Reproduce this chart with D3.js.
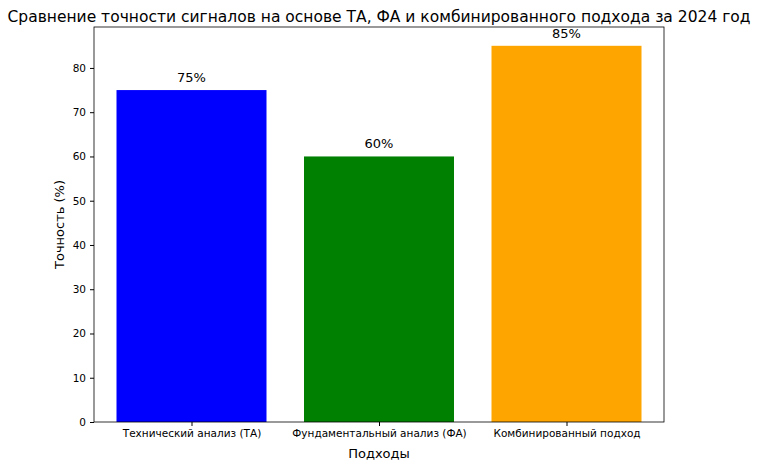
<!DOCTYPE html>
<html><head><meta charset="utf-8">
<script src="https://cdn.jsdelivr.net/npm/d3@7"></script>
<style>body{margin:0;background:#fff;font-family:"DejaVu Sans",sans-serif}</style>
</head><body>
<svg id="chart" width="758" height="468"></svg>
<script>
var categories = ["Технический анализ (ТА)", "Фундаментальный анализ (ФА)", "Комбинированный подход"];
var accuracy = [75, 60, 85];
var colors = ["blue", "green", "orange"];
var yTicks = [0, 10, 20, 30, 40, 50, 60, 70, 80];

var svg = d3.select("#chart");
var plotL = 94, plotR = 664, plotT = 27, plotB = 422;

var x = d3.scaleLinear().domain([-0.52, 2.52]).range([plotL, plotR]);
var y = d3.scaleLinear().domain([0, 89.25]).range([plotB, plotT]);
var bw = x(0.4) - x(0);

svg.selectAll(".bar").data(accuracy).enter().append("rect")
    .attr("x", function(d, i){ return x(i) - bw; })
    .attr("y", function(d){ return y(d); })
    .attr("width", bw * 2)
    .attr("height", function(d){ return y(0) - y(d); })
    .attr("fill", function(d, i){ return colors[i]; });

svg.selectAll(".lbl").data(accuracy).enter().append("text")
    .attr("x", function(d, i){ return x(i); })
    .attr("y", function(d){ return y(d) - 8; })
    .attr("text-anchor", "middle")
    .attr("font-size", 13)
    .text(function(d){ return d + "%"; });

var yAxis = svg.append("g").attr("transform", "translate(" + plotL + ",0)")
    .call(d3.axisLeft(y).tickValues(yTicks).tickSize(4).tickPadding(4));
var xAxis = svg.append("g").attr("transform", "translate(0," + plotB + ")")
    .call(d3.axisBottom(x).tickValues([0, 1, 2]).tickFormat(function(d){ return categories[d]; }).tickSize(4).tickPadding(4));
[yAxis, xAxis].forEach(function(g){
    g.selectAll("text").attr("font-size", 10.5).attr("font-family", "DejaVu Sans").attr("fill", "#000");
    g.select(".domain").remove();
});

svg.append("rect").attr("x", plotL).attr("y", plotT).attr("width", plotR - plotL).attr("height", plotB - plotT)
    .attr("fill", "none").attr("stroke", "#000").attr("stroke-width", 0.8);

svg.append("text").attr("x", 379).attr("y", 22).attr("text-anchor", "middle")
    .attr("font-size", 15.5).text("Сравнение точности сигналов на основе ТА, ФА и комбинированного подхода за 2024 год");
svg.append("text").attr("x", (plotL + plotR) / 2).attr("y", 458).attr("text-anchor", "middle")
    .attr("font-size", 13).text("Подходы");
svg.append("text").attr("transform", "translate(64," + (plotT + plotB) / 2 + ") rotate(-90)")
    .attr("text-anchor", "middle").attr("font-size", 13).text("Точность (%)");
</script>
</body></html>
